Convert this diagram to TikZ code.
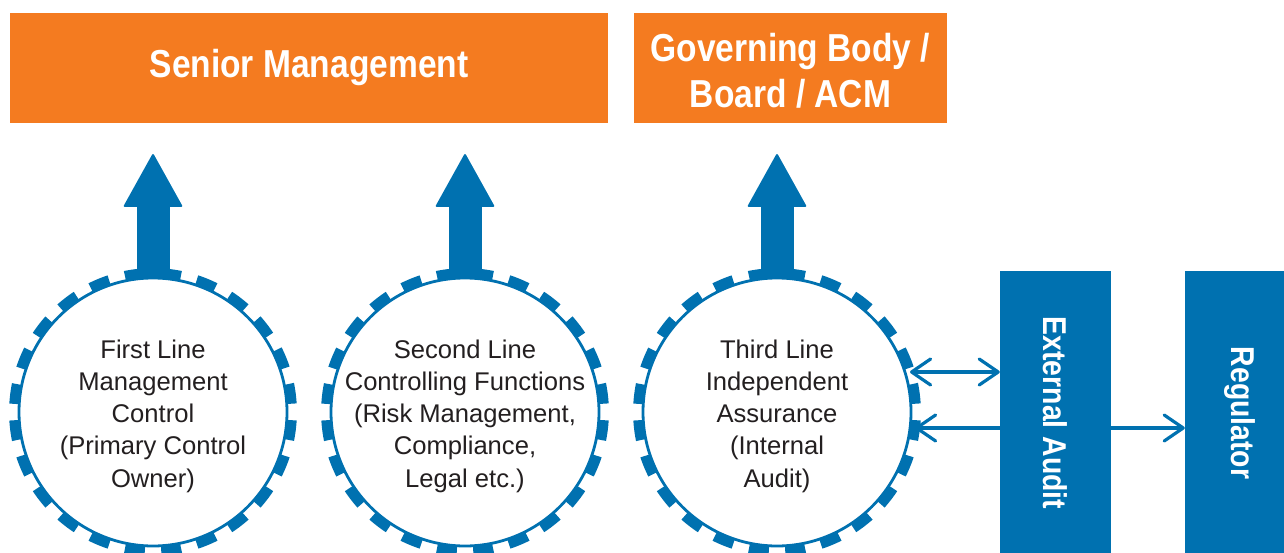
\documentclass[tikz,border=0pt]{standalone}
\usepackage{fontspec}
\usepackage{graphicx}
\setmainfont{Liberation Sans}
\newfontfamily\condbold{Liberation Sans}[FakeStretch=0.86]
\usetikzlibrary{arrows.meta,calc}
\definecolor{bl}{RGB}{0,113,176}
\definecolor{og}{RGB}{244,123,32}
\definecolor{tx}{RGB}{35,31,32}
\tikzset{
  orangebox/.style={fill=og, text=white, inner sep=0pt, align=center,
    font=\condbold\bfseries\fontsize{39}{46}\selectfont},
  bluebox/.style={fill=bl, text=white, inner sep=0pt,
    font=\condbold\bfseries\fontsize{33}{40}\selectfont},
  lineball/.style={circle, draw=bl, line width=2.8pt, fill=white, minimum size=268pt,
    inner sep=0pt},
  balltext/.style={inner sep=0pt, align=center, text=tx, font=\fontsize{25.6}{32.3}\selectfont},
  gear/.style={draw=bl, line width=9.8pt, dash pattern=on 20pt off 16.39pt, dash phase=28.2pt},
  harrow/.style={draw=bl, line width=3.2pt},
  chev/.tip={Straight Barb[length=19pt,width=26pt,round]},
  uparrow/.style={fill=bl}
}
\begin{document}
\begin{tikzpicture}[x=1pt,y=-1pt]
\useasboundingbox (0,0) rectangle (1284,553);
\clip (0,0) rectangle (1284,553);

\node[orangebox, minimum width=598pt, minimum height=110pt] (sm) at (309,68) {Senior Management};
\node[orangebox, minimum width=313pt, minimum height=110pt] (gb) at (790.5,68) {};
\node[orangebox, fill=none] (gbt) at ($(gb.center)+(0,3)$) {Governing Body /\\Board / ACM};

\node[lineball] (c1) at (153,412) {};
\node[lineball] (c2) at (465,412) {};
\node[lineball] (c3) at (777,412) {};
\node[balltext] (t1) at ($(c1.center)+(0,4)$) {First Line\\Management\\Control\\(Primary Control\\Owner)};
\node[balltext] (t2) at ($(c2.center)+(0,4)$) {Second Line\\Controlling Functions\\(Risk Management,\\Compliance,\\Legal etc.)};
\node[balltext] (t3) at ($(c3.center)+(0,4)$) {Third Line\\Independent\\Assurance\\(Internal\\Audit)};

\foreach \c in {c1,c2,c3}{
  \draw[gear] (\c.center) circle[radius=139];
  \fill[uparrow] ($(\c.center)+(-16.5,-133)$) rectangle ($(\c.center)+(16.5,-206)$);
  \fill[uparrow, rounded corners=2pt] ($(\c.center)+(-30,-205)$) -- ($(\c.center)+(0,-259)$) -- ($(\c.center)+(30,-205)$) -- cycle;
}

\node[bluebox, minimum width=111pt, minimum height=284pt] (ea) at (1055.5,413) {\rotatebox{-90}{External Audit}};
\node[bluebox, minimum width=110pt, minimum height=284pt] (reg) at (1240,413) {\rotatebox{-90}{Regulator}};

\coordinate (a1) at ($(c3.center)+(133,-40)$);
\coordinate (a2) at ($(c3.center)+(138,16)$);
\draw[harrow, chev-chev] (a1) -- (a1 -| ea.west);
\draw[harrow, -chev] (a2 -| ea.west) -- (a2);
\draw[harrow, -chev] (ea.east |- a2) -- (reg.west |- a2);
\end{tikzpicture}
\end{document}
